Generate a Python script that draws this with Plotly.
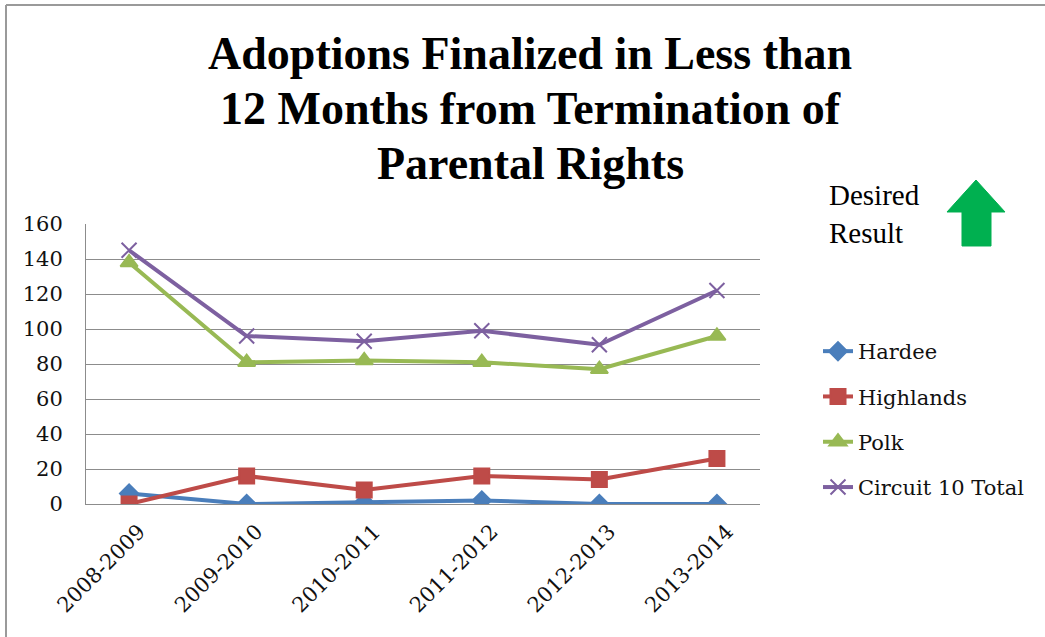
import plotly.graph_objects as go

YEARS = ["2008-2009", "2009-2010", "2010-2011", "2011-2012", "2012-2013", "2013-2014"]
HARDEE = [6, 0, 1, 2, 0, 0]
HIGHLANDS = [0, 16, 8, 16, 14, 26]
POLK = [138, 81, 82, 81, 77, 96]
CIRCUIT_TOTAL = [145, 96, 93, 99, 91, 122]
TITLE_LINES = ["Adoptions Finalized in Less than", "12 Months from Termination of", "Parental Rights"]

TIMES = "Liberation Serif, Times New Roman, serif"
SLAB = "DejaVu Serif, serif"

W, H = 1045, 637
L, R, T, B = 86, 760, 224, 504


def px_x(x):
    return (x - L) / (R - L)


def px_y(y):
    return (B - y) / (B - T)


series = [
    ("Hardee", HARDEE, "#4A7EBB", "diamond", 14),
    ("Highlands", HIGHLANDS, "#BE4B48", "square", 15),
    ("Polk", POLK, "#98B954", "triangle-up", 15),
    ("Circuit 10 Total", CIRCUIT_TOTAL, "#7D60A0", "x-thin", 15),
]

fig = go.Figure()
for name, values, color, symbol, size in series:
    fig.add_trace(
        go.Scatter(
            x=YEARS,
            y=values,
            name=name,
            legendgroup=name,
            mode="lines+markers",
            line=dict(color=color, width=4),
            marker=dict(symbol=symbol, size=size, color=color, line=dict(color=color, width=2)),
        )
    )

fig.update_layout(
    width=W,
    height=H,
    margin=dict(l=L, r=W - R, t=T, b=H - B),
    paper_bgcolor="#FFFFFF",
    plot_bgcolor="#FFFFFF",
    font=dict(family=SLAB, size=21, color="#000000"),
    legend=dict(
        x=px_x(818),
        y=px_y(331),
        xanchor="left",
        yanchor="top",
        font=dict(family=SLAB, size=21, color="#111111"),
        tracegroupgap=15,
        bgcolor="rgba(0,0,0,0)",
    ),
    showlegend=True,
)
fig.update_xaxes(
    type="category",
    tickangle=-45,
    tickfont=dict(family=SLAB, size=21, color="#111111"),
    showgrid=False,
    showline=True,
    linecolor="#8C8C8C",
    linewidth=1,
    ticks="",
    ticklabelstandoff=6,
    ticklabelshift=10,
)
fig.update_yaxes(
    range=[0, 160],
    dtick=20,
    tickfont=dict(family=SLAB, size=21, color="#111111"),
    showgrid=True,
    gridcolor="#8C8C8C",
    gridwidth=1,
    zeroline=False,
    showline=True,
    linecolor="#8C8C8C",
    ticks="",
    ticklabelstandoff=18,
)

for text, y in zip(TITLE_LINES, [54, 109, 163]):
    fig.add_annotation(
        text=f"<b>{text}</b>",
        xref="paper",
        yref="paper",
        x=px_x(530),
        y=px_y(y),
        xanchor="center",
        yanchor="middle",
        showarrow=False,
        font=dict(family=TIMES, size=46, color="#000000"),
    )

# outer frame (left and top edges)
for x0, y0, x1, y1 in [(6, 5, 6, 637), (6, 5, 1045, 5)]:
    fig.add_shape(
        type="line",
        xref="paper",
        yref="paper",
        x0=px_x(x0),
        y0=px_y(y0),
        x1=px_x(x1),
        y1=px_y(y1),
        line=dict(color="#9A9A9A", width=2),
    )

fig.add_annotation(
    text="Desired<br>Result",
    xref="paper",
    yref="paper",
    x=px_x(827),
    y=px_y(214),
    xanchor="left",
    yanchor="middle",
    align="left",
    showarrow=False,
    font=dict(family=TIMES, size=29, color="#000000"),
)

# green up arrow
pts = [(962, 246), (962, 212), (947, 212), (976, 180), (1005, 212), (991, 212), (991, 246)]
path = "M " + " L ".join(f"{px_x(a):.5f},{px_y(b):.5f}" for a, b in pts) + " Z"
fig.add_shape(
    type="path",
    xref="paper",
    yref="paper",
    path=path,
    fillcolor="#00B050",
    line=dict(color="#00B050", width=1),
)

fig.write_html(
    "out.html",
    config={"displayModeBar": False},
    post_script="document.body.style.margin='0px';",
)
